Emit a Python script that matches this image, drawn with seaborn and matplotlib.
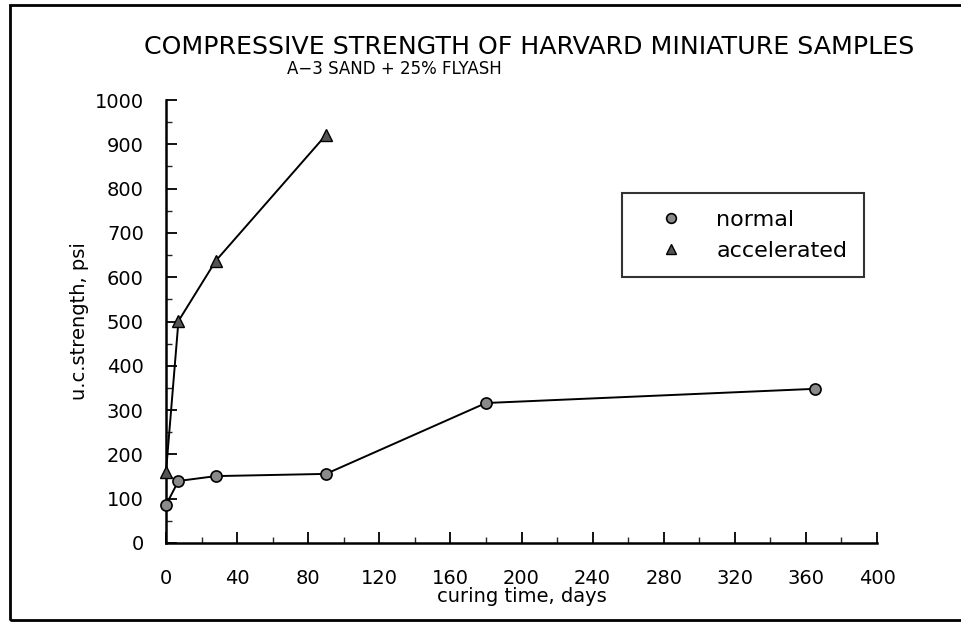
import matplotlib
matplotlib.use("Agg")
import matplotlib.pyplot as plt
from matplotlib.patches import Rectangle
from matplotlib.ticker import MultipleLocator
from matplotlib.lines import Line2D
import seaborn as sns
import pandas as pd

# Curing time (days) and unconfined compressive strength (psi)
normal_days = [0, 7, 28, 90, 180, 365]
normal_psi = [86, 140, 151, 156, 316, 348]
accel_days = [0, 7, 28, 90]
accel_psi = [160, 501, 637, 921]

x_ticks = [0, 40, 80, 120, 160, 200, 240, 280, 320, 360, 400]
y_ticks = [0, 100, 200, 300, 400, 500, 600, 700, 800, 900, 1000]

sns.set_theme(style="white")
plt.rcParams["font.family"] = ["DejaVu Sans"]
plt.rcParams["text.color"] = "black"
plt.rcParams["axes.labelcolor"] = "black"

df_normal = pd.DataFrame({"days": normal_days, "psi": normal_psi})
df_accel = pd.DataFrame({"days": accel_days, "psi": accel_psi})

fig = plt.figure(figsize=(9.61, 6.34), dpi=100)
ax = fig.add_axes([166 / 961, 1 - 543 / 634, (877 - 166) / 961, (543 - 100) / 634])

sns.lineplot(data=df_accel, x="days", y="psi", ax=ax, color="black", lw=1.4,
             marker="^", markersize=8, markerfacecolor="#555555",
             markeredgecolor="black", markeredgewidth=1.0, clip_on=False, zorder=3)
sns.lineplot(data=df_normal, x="days", y="psi", ax=ax, color="black", lw=1.4,
             marker="o", markersize=8, markerfacecolor="#8a8a8a",
             markeredgecolor="black", markeredgewidth=1.2, clip_on=False, zorder=4)

ax.set_xlim(0, 400)
ax.set_ylim(0, 1000)
ax.set_xticks(x_ticks)
ax.set_yticks(y_ticks)
ax.xaxis.set_minor_locator(MultipleLocator(20))
ax.yaxis.set_minor_locator(MultipleLocator(50))
ax.tick_params(axis="both", which="major", direction="in", length=8, width=1.3,
               labelsize=14, colors="black", bottom=True, left=True)
ax.tick_params(axis="both", which="minor", direction="in", length=4, width=1.0,
               bottom=True, left=True)
ax.tick_params(axis="y", pad=16)
ax.tick_params(axis="x", pad=19)

for side in ("top", "right"):
    ax.spines[side].set_visible(False)
for side in ("left", "bottom"):
    ax.spines[side].set_color("black")
    ax.spines[side].set_linewidth(1.8)

ax.set_xlabel("curing time, days", fontsize=14, labelpad=-1, color="black")
ax.set_ylabel("u.c.strength, psi", fontsize=14, labelpad=4, color="black")

handles = [
    Line2D([], [], ls="none", marker="o", markersize=7, markerfacecolor="#8a8a8a",
           markeredgecolor="black", markeredgewidth=1.2),
    Line2D([], [], ls="none", marker="^", markersize=7, markerfacecolor="#555555",
           markeredgecolor="black", markeredgewidth=1.0),
]
leg = ax.legend(handles, ["normal", "accelerated"], loc="upper left",
                bbox_to_anchor=((622 - 166) / 711, (543 - 193) / 443),
                frameon=True, fancybox=False, fontsize=16, handletextpad=0.6,
                borderpad=0.75, labelspacing=0.5, borderaxespad=0,
                handlelength=2.9, edgecolor="black")
leg.get_frame().set_linewidth(1.5)
for t in leg.get_texts():
    t.set_color("black")

fig.text(529 / 961, 1 - 47 / 634, "COMPRESSIVE STRENGTH OF HARVARD MINIATURE SAMPLES",
         ha="center", va="center", fontsize=18.2)
fig.text(394 / 961, 1 - 69 / 634, "A\u22123 SAND + 25% FLYASH",
         ha="center", va="center", fontsize=12)

# Border drawn around the page
fig.patches.append(Rectangle((10 / 961, 1 - 620 / 634), 1.0, (620 - 5) / 634,
                             transform=fig.transFigure, fill=False,
                             edgecolor="black", linewidth=2.0))

fig.savefig("out.png", dpi=100)
